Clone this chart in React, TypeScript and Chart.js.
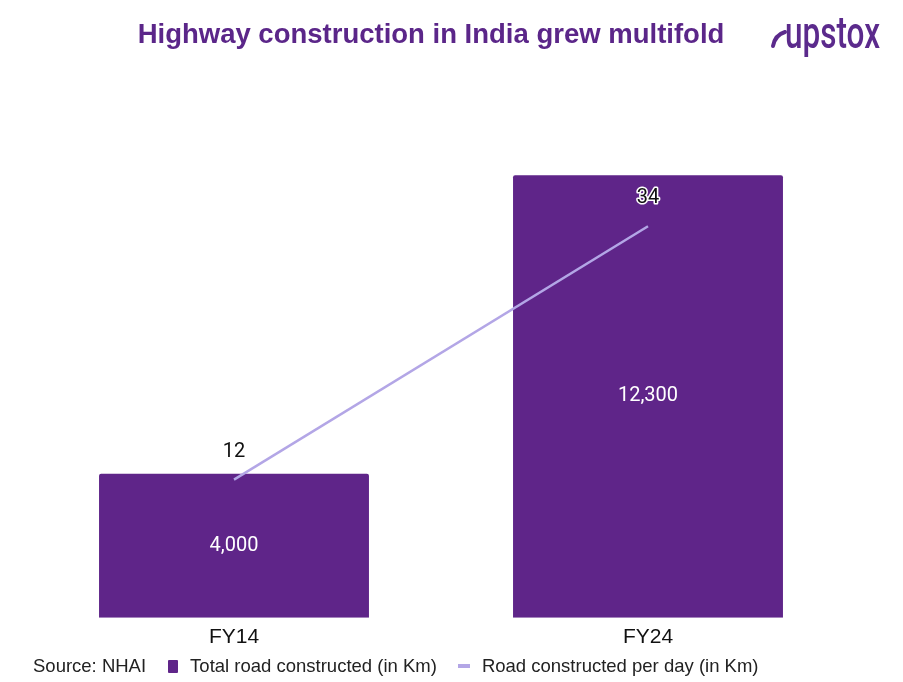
import React, { useEffect, useRef } from "react";
import { Chart, registerables } from "chart.js";

Chart.register(...registerables);

const TITLE = "Highway construction in India grew multifold";
const SOURCE = "Source: NHAI";
const LOGO = "upstox";
const categories = ["FY14", "FY24"];
const totalRoad = [4000, 12300];
const perDay = [12, 34];
const barLabel = "Total road constructed (in Km)";
const lineLabel = "Road constructed per day (in Km)";
const BAR_COLOR = "#5f2589";
const LINE_COLOR = "#b3a6e6";

const labelPlugin = {
  id: "valueLabels",
  afterDatasetsDraw(chart: any) {
    const ctx = chart.ctx;
    ctx.save();
    ctx.textAlign = "center";
    ctx.textBaseline = "middle";
    const barMeta = chart.getDatasetMeta(0);
    barMeta.data.forEach((el: any, i: number) => {
      ctx.font = "20px Roboto";
      ctx.fillStyle = "#ffffff";
      ctx.fillText(totalRoad[i].toLocaleString("en-US"), el.x, (el.y + el.base) / 2);
    });
    const lineMeta = chart.getDatasetMeta(1);
    lineMeta.data.forEach((el: any, i: number) => {
      ctx.font = "20px Roboto";
      const t = String(perDay[i]);
      const y = el.y - 28;
      ctx.lineWidth = 3;
      ctx.strokeStyle = "#ffffff";
      ctx.lineJoin = "round";
      ctx.strokeText(t, el.x, y);
      ctx.fillStyle = "#111111";
      ctx.fillText(t, el.x, y);
    });
    ctx.restore();
  },
};

export default function App() {
  const ref = useRef<HTMLCanvasElement>(null);
  useEffect(() => {
    if (!ref.current) return;
    const chart = new Chart(ref.current, {
      type: "bar",
      data: {
        labels: categories,
        datasets: [
          {
            type: "bar",
            label: barLabel,
            data: totalRoad,
            backgroundColor: BAR_COLOR,
            yAxisID: "y",
            barPercentage: 1,
            categoryPercentage: 0.652,
            order: 2,
            borderRadius: 2,
          },
          {
            type: "line",
            label: lineLabel,
            data: perDay,
            borderColor: LINE_COLOR,
            backgroundColor: LINE_COLOR,
            borderWidth: 2.5,
            pointRadius: 0,
            yAxisID: "y1",
            order: 1,
          } as any,
        ],
      },
      options: {
        responsive: false,
        animation: false,
        layout: { padding: { left: 27, right: 48, top: 42, bottom: 25 } },
        plugins: {
          legend: { display: false },
          tooltip: { enabled: false },
          title: { display: false },
        },
        scales: {
          x: {
            grid: { display: false, drawTicks: false },
            border: { display: false },
            ticks: { color: "#111", font: { size: 21, family: "Liberation Sans" }, padding: 7 },
          },
          y: { display: false, min: 0, max: 16000 },
          y1: { display: false, min: 0, max: 50, position: "right" },
        },
      },
      plugins: [labelPlugin],
    });
    return () => chart.destroy();
  }, []);

  return (
    <div style={{ position: "absolute", left: 0, top: 0, width: 903, height: 682, background: "#fff", fontFamily: "Liberation Sans" }}>
      <canvas ref={ref} width={903} height={682} style={{ position: "absolute", left: 0, top: 0 }} />
      <div style={{ position: "absolute", left: 0, width: 862, top: 18, textAlign: "center", fontWeight: "bold", fontSize: 27.5, color: "#5b2689", whiteSpace: "nowrap" }}>{TITLE}</div>
      <svg width={140} height={70} viewBox="760 0 140 70" style={{ position: "absolute", left: 760, top: 0 }}>
        <path d="M 773 46 Q 775 35 785 32" stroke="#5b2a8c" strokeWidth={4} fill="none" strokeLinecap="round" />
        <text x={785} y={48} fontFamily="Roboto" fontWeight={500} fontSize={45} fill="#5b2a8c" textLength={95} lengthAdjust="spacingAndGlyphs">{LOGO}</text>
      </svg>
      <div style={{ position: "absolute", left: 33, top: 655, fontSize: 18.5, color: "#222", display: "flex", alignItems: "center", whiteSpace: "nowrap" }}>
        <span>{SOURCE}</span>
        <span style={{ display: "inline-block", width: 10, height: 13, background: BAR_COLOR, marginLeft: 22, marginRight: 12, borderRadius: 1 }} />
        <span>{barLabel}</span>
        <span style={{ display: "inline-block", width: 12, height: 4, background: LINE_COLOR, marginLeft: 21, marginRight: 12 }} />
        <span>{lineLabel}</span>
      </div>
    </div>
  );
}
